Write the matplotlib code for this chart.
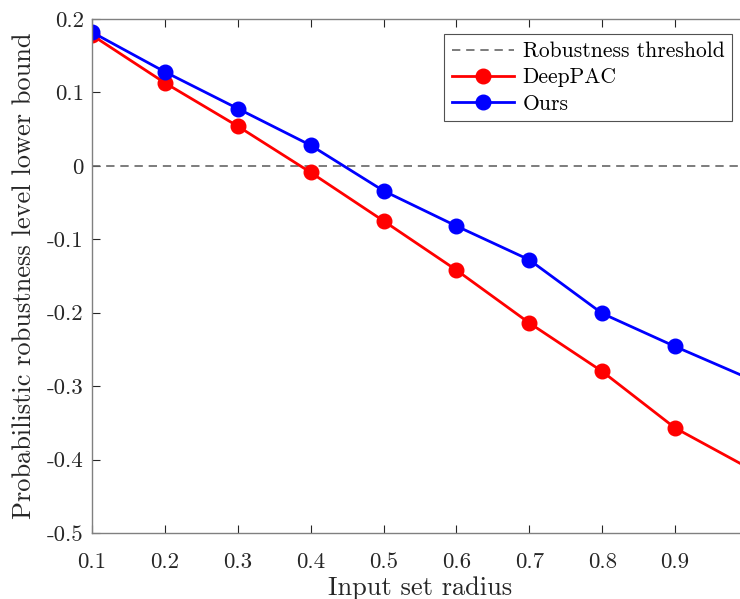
import matplotlib
matplotlib.use("Agg")
import matplotlib.pyplot as plt

radius = [0.1, 0.2, 0.3, 0.4, 0.5, 0.6, 0.7, 0.8, 0.9, 1.0]
deeppac = [0.178, 0.113, 0.054, -0.009, -0.075, -0.142, -0.214, -0.280, -0.357, -0.411]
ours = [0.182, 0.128, 0.078, 0.028, -0.034, -0.082, -0.128, -0.201, -0.246, -0.289]
threshold = 0.0

xticks = [0.1, 0.2, 0.3, 0.4, 0.5, 0.6, 0.7, 0.8, 0.9]
xtick_labels = ['0.1', '0.2', '0.3', '0.4', '0.5', '0.6', '0.7', '0.8', '0.9']
yticks = [-0.5, -0.4, -0.3, -0.2, -0.1, 0.0, 0.1, 0.2]
ytick_labels = ['-0.5', '-0.4', '-0.3', '-0.2', '-0.1', '0', '0.1', '0.2']

plt.rcParams['font.family'] = 'cmr10'
plt.rcParams['mathtext.fontset'] = 'cm'
plt.rcParams['axes.unicode_minus'] = False

fig = plt.figure(figsize=(7.40, 5.99), dpi=100)
# axes run past the right edge, like the cropped original
ax = fig.add_axes([92 / 740, 66 / 599, 656 / 740, 514 / 599])

ax.axhline(threshold, color='#666666', linestyle=(0, (5, 3.5)), linewidth=1.2,
           label='Robustness threshold')
ax.plot(radius, deeppac, color='#ff0000', linewidth=2, marker='o', markersize=10.5,
        label='DeepPAC')
ax.plot(radius, ours, color='#0000ff', linewidth=2, marker='o', markersize=10.5,
        label='Ours')

ax.set_xlim(0.1, 1.0)
ax.set_ylim(-0.5, 0.2)
ax.set_xticks(xticks)
ax.set_xticklabels(xtick_labels)
ax.set_yticks(yticks)
ax.set_yticklabels(ytick_labels)
ax.tick_params(direction='in', top=True, right=True, labelsize=16.5, colors='#262626',
               length=6, width=0.8)
ax.tick_params(axis='x', pad=14)
ax.tick_params(axis='y', pad=6)
for s in ax.spines.values():
    s.set_color('#808080')
    s.set_linewidth(1.0)

ax.set_xlabel('Input set radius', fontsize=19, color='#262626', labelpad=3)
ax.set_ylabel('Probabilistic robustness level lower bound', fontsize=19,
              color='#262626', labelpad=8)

leg = ax.legend(loc='upper right', bbox_to_anchor=(732 / 740, 1 - 34 / 599),
                bbox_transform=fig.transFigure, fontsize=15.5, frameon=True,
                fancybox=False, edgecolor='#262626', handlelength=2.9,
                borderpad=0.35, labelspacing=0.32, handletextpad=0.4,
                borderaxespad=0)
leg.get_frame().set_linewidth(0.8)

fig.savefig('out.png', dpi=100)
